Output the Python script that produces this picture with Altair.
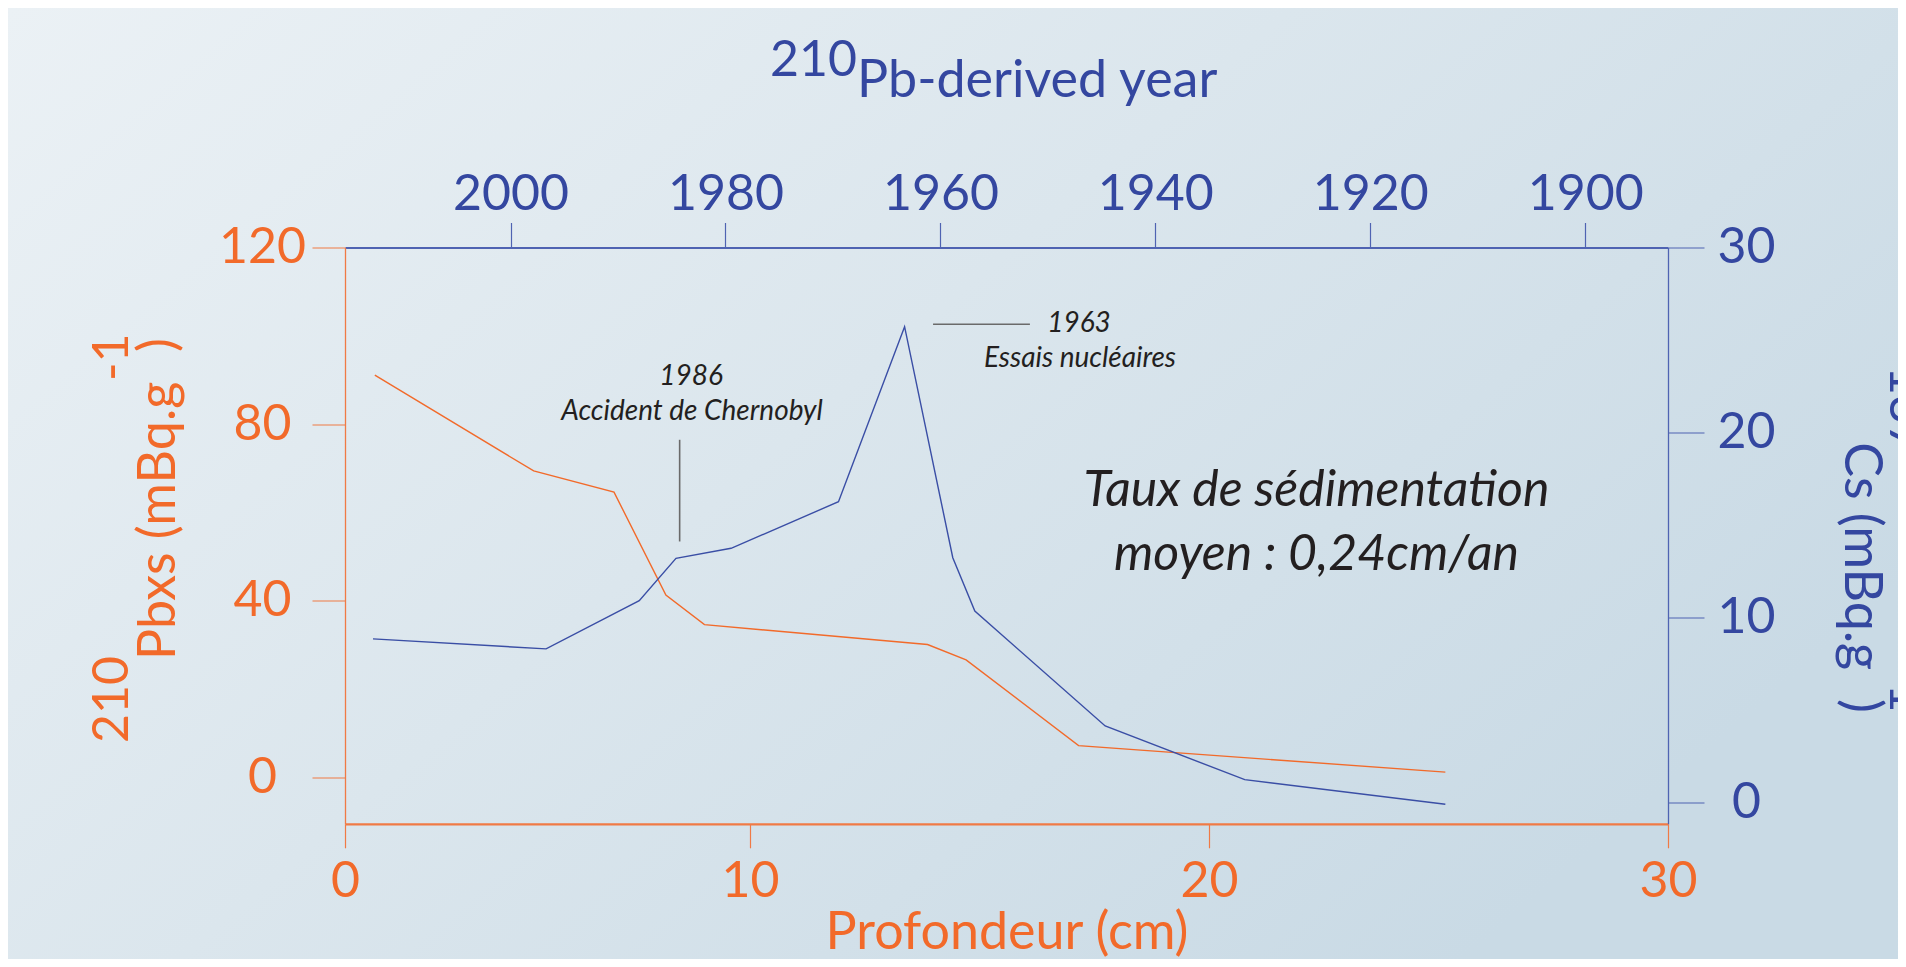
import altair as alt
import pandas as pd

# ---- data ----
pb_depth = [1.83, 5.29, 7.04, 8.17, 9.01, 13.87, 14.71, 17.16, 25.15]
pb_value = [91.1, 69.4, 64.6, 41.3, 34.6, 30.1, 26.6, 7.2, 1.2]
cs_depth = [1.79, 5.56, 7.59, 8.39, 9.59, 11.93, 13.37, 14.42, 14.90, 17.74, 20.78, 25.15]
cs_value = [8.83, 8.29, 10.9, 13.19, 13.73, 16.25, 25.72, 13.22, 10.34, 4.12, 1.22, -0.11]

# the drawn frame starts a little after depth 0; its first tick is labelled "0"
depth_start = 1.18
depth_ticks = [depth_start, 10, 20, 30]
pb_ticks = [0, 40, 80, 120]
cs_ticks = [0, 10, 20, 30]
year_ticks = [2000, 1980, 1960, 1940, 1920, 1900]

# annotation markers (data units)
chernobyl_depth = [8.47]
chernobyl_cs_lo = [14.1]
chernobyl_cs_hi = [19.6]
tests_depth_lo = [13.99]
tests_depth_hi = [16.10]
tests_cs = [25.85]

# ---- styling ----
W, H = 1323, 576.3
ORANGE = "#f26a2a"
ORANGE_LINE = "#f07a45"
BLUE = "#3447a0"
BLUE_LINE = "#4f63b2"
DARK = "#231f20"
GRAY = "#6a6a6a"
FONT = "Lato"

pb_df = pd.DataFrame({"depth": pb_depth, "pb": pb_value})
cs_df = pd.DataFrame({"depth": cs_depth, "cs": cs_value})
year_df = pd.DataFrame({"year": year_ticks})
cher_df = pd.DataFrame({"depth": chernobyl_depth, "lo": chernobyl_cs_lo, "hi": chernobyl_cs_hi})
tests_df = pd.DataFrame({"d0": tests_depth_lo, "d1": tests_depth_hi, "cs": tests_cs})

one = alt.Data(values=[{}])

x_depth = alt.Scale(domain=[depth_start, 30], nice=False, zero=False)
y_pb = alt.Scale(domain=[-10.5, 120], nice=False, zero=False)
y_cs = alt.Scale(domain=[-1.17, 30], nice=False, zero=False)
x_year = alt.Scale(domain=[1892.3, 2015.4], reverse=True, nice=False, zero=False)

bottom_axis = alt.Axis(
    orient="bottom", values=depth_ticks, grid=False, zindex=1,
    labelExpr="datum.value < 5 ? '0' : format(datum.value, 'd')",
    domainColor=ORANGE_LINE, domainWidth=2.2, tickColor=ORANGE_LINE, tickWidth=1.2,
    tickSize=24, labelColor=ORANGE, labelFont=FONT, labelFontSize=50,
    labelBaseline="alphabetic", labelPadding=49, labelFlush=False, labelOverlap=False,
    title="Profondeur (cm)", titleColor=ORANGE, titleFont=FONT, titleFontSize=52,
    titleFontWeight="normal", titleBaseline="alphabetic", titleY=125,
)
left_axis = alt.Axis(
    orient="left", values=pb_ticks, grid=False, zindex=1,
    domainColor=ORANGE_LINE, domainWidth=1.3, tickColor=ORANGE_LINE, tickWidth=1.2,
    tickSize=33, labelColor=ORANGE, labelFont=FONT, labelFontSize=50,
    labelAlign="center", labelBaseline="middle", labelPadding=50,
    labelFlush=False, labelOverlap=False, title=None,
)
right_axis = alt.Axis(
    orient="right", values=cs_ticks, grid=False, zindex=1,
    domainColor=BLUE_LINE, domainWidth=1.3, tickColor=BLUE_LINE, tickWidth=1.2,
    tickSize=36, labelColor=BLUE, labelFont=FONT, labelFontSize=50,
    labelAlign="center", labelBaseline="middle", labelPadding=42,
    labelFlush=False, labelOverlap=False, title=None,
)
top_axis = alt.Axis(
    orient="top", values=year_ticks, grid=False, format="d", zindex=1,
    domainColor=BLUE_LINE, domainWidth=2.2, tickColor=BLUE_LINE, tickWidth=1.2,
    tickSize=25, labelColor=BLUE, labelFont=FONT, labelFontSize=50,
    labelBaseline="alphabetic", labelPadding=13, labelFlush=False,
    labelOverlap=False, title=None,
)

# background gradient covering the whole page
bg = alt.Chart(one).mark_rect(
    fill=alt.LinearGradient(
        gradient="linear",
        stops=[alt.GradientStop(color="#ebf1f5", offset=0),
               alt.GradientStop(color="#dbe6ed", offset=0.5),
               alt.GradientStop(color="#c9dae5", offset=1)],
        x1=0, y1=0, x2=1, y2=0.6,
    ),
    strokeWidth=0,
).encode(x=alt.value(-337), x2=alt.value(1553), y=alt.value(-240), y2=alt.value(728))


def txt(text, x, y, size, color, align="left", angle=0, style="normal"):
    kw = dict(text=text, align=align, baseline="alphabetic", fontSize=size,
              color=color, font=FONT, fontStyle=style)
    if angle:
        kw["angle"] = angle
    return alt.Chart(one).mark_text(**kw).encode(x=alt.value(x), y=alt.value(y))


pb_line = alt.Chart(pb_df).mark_line(color=ORANGE, strokeWidth=1.4).encode(
    x=alt.X("depth:Q", scale=x_depth, axis=bottom_axis),
    y=alt.Y("pb:Q", scale=y_pb, axis=left_axis),
)

titles = [
    # top title
    txt("210", 512, -171.5, 50, BLUE, align="right"),
    txt("Pb-derived year", 512, -150.8, 52, BLUE),
    # left title (rotated)
    txt("210", -217, 495.5, 50, ORANGE, angle=270),
    txt("Pbxs (mBq.g", -170, 412.5, 52, ORANGE, angle=270),
    txt("-1", -217, 133.5, 50, ORANGE, angle=270),
    txt(")", -170, 104.5, 52, ORANGE, angle=270),
    # right title (rotated)
    txt("137", 1545, 118.5, 50, BLUE, angle=90),
    txt("Cs (mBq.g", 1500, 194.7, 52, BLUE, angle=90),
    txt("-1", 1545, 417.5, 50, BLUE, angle=90),
    txt(")", 1500, 451.5, 52, BLUE, angle=90),
    # annotations
    txt("1986", 346, 137.5, 28, DARK, align="center", style="italic"),
    txt("Accident de Chernobyl", 347, 172.5, 28, DARK, align="center", style="italic"),
    txt("1963", 734, 84.2, 28, DARK, align="center", style="italic"),
    txt("Essais nucléaires", 735, 119.8, 28, DARK, align="center", style="italic"),
    txt("Taux de sédimentation", 971.5, 258.5, 50, DARK, align="center", style="italic"),
    txt("moyen : 0,24cm/an", 971.5, 322.5, 50, DARK, align="center", style="italic"),
]

pb_group = alt.layer(bg, pb_line, *titles)

cs_line = alt.Chart(cs_df).mark_line(color="#3a4ea5", strokeWidth=1.4).encode(
    x=alt.X("depth:Q", scale=x_depth, axis=None),
    y=alt.Y("cs:Q", scale=y_cs, axis=right_axis),
)
cher_rule = alt.Chart(cher_df).mark_rule(color=GRAY, strokeWidth=1.6).encode(
    x=alt.X("depth:Q", scale=x_depth, axis=None),
    y=alt.Y("lo:Q", scale=y_cs),
    y2="hi:Q",
)
tests_rule = alt.Chart(tests_df).mark_rule(color=GRAY, strokeWidth=1.6).encode(
    x=alt.X("d0:Q", scale=x_depth, axis=None),
    x2="d1:Q",
    y=alt.Y("cs:Q", scale=y_cs),
)
cs_group = alt.layer(cs_line, cher_rule, tests_rule)

year_layer = alt.Chart(year_df).mark_point(opacity=0).encode(
    x=alt.X("year:Q", scale=x_year, axis=top_axis),
)

chart = alt.layer(pb_group, cs_group, year_layer).resolve_scale(
    x="independent", y="independent"
).properties(
    width=W, height=H,
    autosize=alt.AutoSizeParams(type="none"),
    padding={"left": 337, "top": 239.5, "right": 230, "bottom": 135},
).configure(
    background="#dde7ee",
    font=FONT,
).configure_view(stroke=None)

chart.save("out.html", embed_options={"renderer": "svg", "actions": False})
